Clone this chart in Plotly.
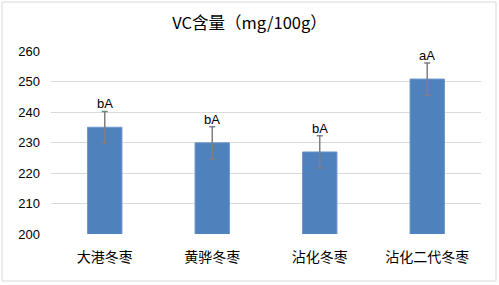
import plotly.graph_objects as go

categories = ["大港冬枣", "黄骅冬枣", "沾化冬枣", "沾化二代冬枣"]
values = [235.0, 229.9, 226.9, 250.8]
errors = [5.2, 5.3, 5.3, 5.3]
letters = ["bA", "bA", "bA", "aA"]
y_ticks = [200, 210, 220, 230, 240, 250, 260]

W, H = 499, 285
ml, mr, mt, mb = 51, 18, 51, 51
pw, ph = W - ml - mr, H - mt - mb

fig = go.Figure()
fig.add_trace(go.Bar(
    x=categories, y=values,
    marker=dict(color="#4f81bd", line=dict(color="#6d97cc", width=1)),
    width=0.32,
    error_y=dict(type="data", array=errors, visible=True,
                 color="#7f7f7f", thickness=1.5, width=3),
))
for c, v, e, t in zip(categories, values, errors, letters):
    fig.add_annotation(x=c, y=v + e, text=t, showarrow=False,
                       yanchor="bottom", yshift=-2,
                       font=dict(family="Liberation Sans, Arial", size=13, color="#000000"))

fig.add_shape(type="rect", xref="paper", yref="paper",
              x0=(2 - ml) / pw, x1=(496 - ml) / pw,
              y0=(H - mb - 281) / ph, y1=(H - mb - 2) / ph,
              line=dict(color="#d9d9d9", width=1), fillcolor="rgba(0,0,0,0)", layer="above")

fig.update_layout(
    width=W, height=H,
    margin=dict(l=ml, r=mr, t=mt, b=mb, autoexpand=False),
    paper_bgcolor="white", plot_bgcolor="white",
    showlegend=False,
    title=dict(text="VC含量（mg/100g）", x=0.5, xref="container", xanchor="center",
               y=1 - 23 / H, yref="container", yanchor="middle",
               font=dict(family="Noto Sans CJK SC", size=16.5, color="#000000")),
    xaxis=dict(showgrid=False, showline=False, ticks="", ticklabelstandoff=13, automargin=False,
               tickfont=dict(family="Noto Sans CJK SC", size=14, color="#000000")),
    yaxis=dict(range=[200, 260], tickvals=y_ticks, showgrid=True, gridcolor="#d9d9d9",
               gridwidth=1, zeroline=False, showline=False, ticks="", automargin=False,
               ticklabelstandoff=10,
               tickfont=dict(family="Liberation Sans, Arial", size=13, color="#000000")),
)
fig.write_html("out.html", config={"displayModeBar": False},
               post_script="document.body.style.margin='0';")
